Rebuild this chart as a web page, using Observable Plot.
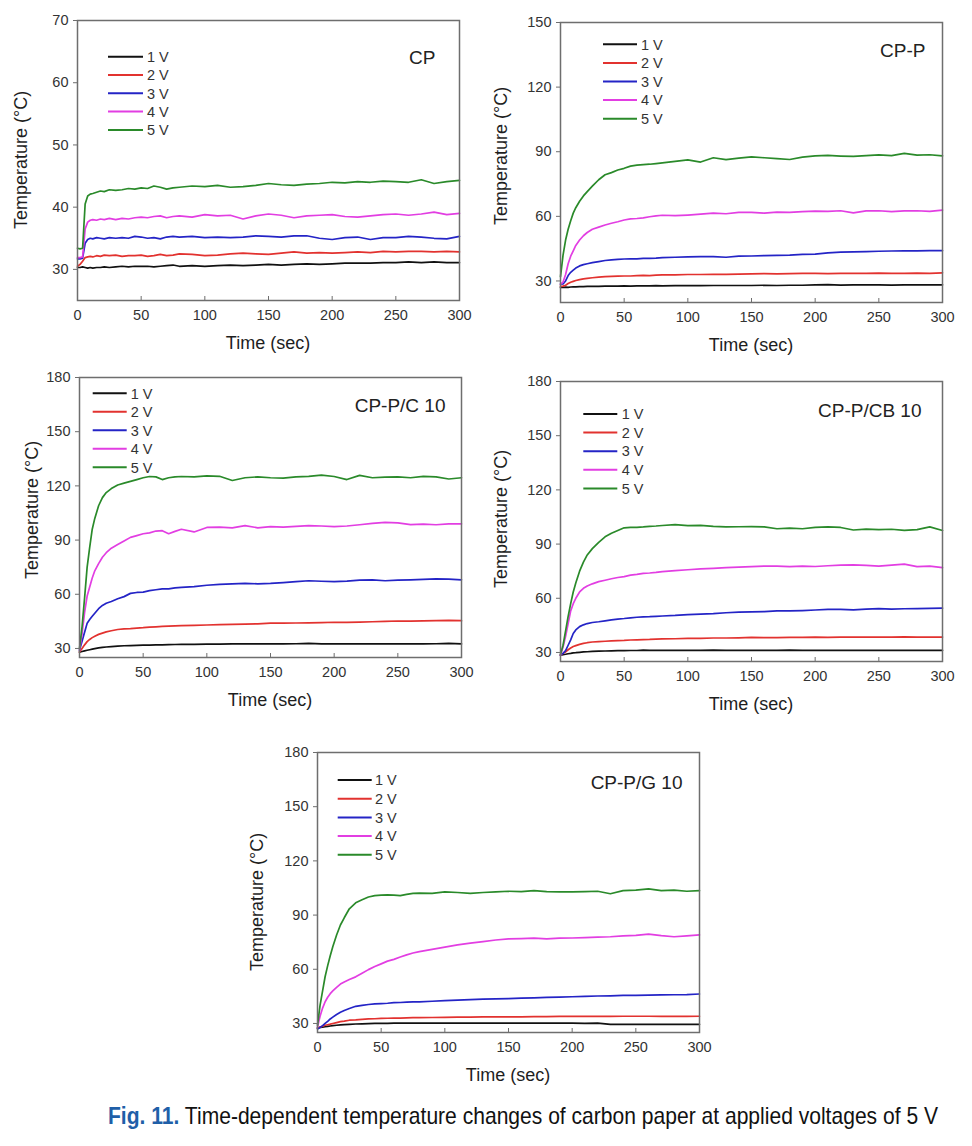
<!DOCTYPE html>
<html><head><meta charset="utf-8">
<script src="https://cdn.jsdelivr.net/npm/d3@7"></script>
<script src="https://cdn.jsdelivr.net/npm/@observablehq/plot@0.6"></script>
<style>
body{margin:0;background:#fff;}
#root{position:relative;width:972px;height:1146px;overflow:hidden;background:#fff;}
.panel{position:absolute;}
#caption{position:absolute;left:108px;top:1102px;white-space:nowrap;font-family:"Liberation Sans Narrow","Liberation Sans",Arial,sans-serif;font-size:24px;line-height:28px;color:#111;transform-origin:0 0;}
#caption b{color:#1f5fa8;}
</style></head><body><div id="root"></div>
<script>
// ---------- data ----------
const time = [0,2,4,6,8,10,12,15,18,21, 25,30,35,40,45,50,55,60,65,70,75,80,
  90,100,110,120,130,140,150,160,170,180,190,200,210,220,230,240,250,260,270,280,290,300];
const voltages = ["1 V","2 V","3 V","4 V","5 V"];
const colors = ["#111111","#e2322f","#2424c6","#e23ee2","#2a8a2a"];
const xTicks = [0,50,100,150,200,250,300];

// CP
const cp_1V = [30.3,30.3,30.4,30.3,30.2,30.3,30.2,30.3,30.3,30.4, 30.3,30.4,30.5,30.4,30.5,30.5,30.5,30.4,30.5,30.6,30.7,30.5, 30.6,30.5,30.6,30.7,30.6,30.7,30.8,30.7,30.8,30.9,30.8,30.9,31.0,31.0,31.0,31.1,31.1,31.2,31.1,31.2,31.1,31.1];
const cp_2V = [30.5,30.8,31.3,31.9,32.0,32.1,32.0,32.2,32.1,32.3, 32.2,32.3,32.1,32.2,32.2,32.3,32.1,32.2,32.4,32.2,32.3,32.5, 32.4,32.2,32.3,32.5,32.6,32.5,32.4,32.6,32.8,32.6,32.7,32.6,32.7,32.8,32.7,32.9,32.8,32.9,32.9,32.8,32.9,32.8];
const cp_3V = [31.7,31.7,31.8,34.2,34.8,35.0,34.9,35.1,35.0,34.9, 35.1,35.0,35.1,35.0,35.3,35.2,35.0,35.1,34.9,35.2,35.3,35.2, 35.3,35.1,35.2,35.1,35.2,35.4,35.3,35.2,35.4,35.4,35.0,34.8,35.1,35.2,34.8,35.1,35.1,35.3,35.2,35.0,34.9,35.3];
const cp_4V = [31.9,31.9,32.0,36.5,37.6,37.9,38.0,37.9,38.1,38.0, 38.2,38.0,38.2,38.1,38.3,38.4,38.3,38.5,38.6,38.3,38.5,38.6, 38.4,38.8,38.6,38.7,38.1,38.6,38.9,38.7,38.3,38.6,38.7,38.8,38.5,38.4,38.6,38.8,38.9,38.7,38.9,39.2,38.8,39.0];
const cp_5V = [33.4,33.3,33.4,40.5,41.8,42.1,42.2,42.4,42.6,42.5, 42.8,42.7,42.8,43.0,42.9,43.1,43.0,43.4,43.2,42.9,43.1,43.2, 43.4,43.3,43.5,43.2,43.3,43.5,43.8,43.6,43.5,43.7,43.8,44.0,43.9,44.1,44.0,44.2,44.1,44.0,44.4,43.8,44.1,44.3];

// CP-P
const cpp_1V = [27.0,27.0,27.1,27.0,27.2,27.3,27.3,27.4,27.4,27.5, 27.5,27.5,27.6,27.6,27.6,27.7,27.6,27.7,27.7,27.7,27.8,27.7, 27.8,27.9,27.8,27.9,27.9,27.9,27.9,28.0,27.9,28.0,28.0,28.2,28.3,28.1,28.2,28.2,28.2,28.1,28.2,28.2,28.2,28.2];
const cpp_2V = [27.5,27.6,28.0,28.8,29.4,29.8,30.2,30.6,31.0,31.2, 31.5,31.8,32.0,32.1,32.2,32.3,32.3,32.5,32.6,32.5,32.7,32.8, 32.8,33.0,33.0,33.1,33.1,33.2,33.3,33.4,33.3,33.4,33.5,33.5,33.4,33.5,33.5,33.5,33.6,33.5,33.5,33.6,33.5,33.8];
const cpp_3V = [28.5,28.6,30.0,32.5,34.0,35.0,36.0,37.0,37.6,38.0, 38.5,39.0,39.5,39.8,40.0,40.2,40.3,40.3,40.5,40.5,40.6,40.8, 41.0,41.2,41.3,41.3,41.0,41.5,41.6,41.8,41.9,42.0,42.3,42.5,43.0,43.4,43.5,43.6,43.8,43.9,44.0,44.0,44.1,44.1];
const cpp_4V = [28.5,29.5,33.0,38.0,41.5,44.0,46.5,49.0,51.0,52.5, 54.0,55.0,56.0,56.8,57.5,58.3,58.8,59.0,59.3,59.8,60.2,60.5, 60.3,60.6,61.0,61.5,61.2,61.8,61.8,61.5,62.0,61.8,62.2,62.4,62.3,62.6,61.6,62.5,62.6,62.2,62.5,62.6,62.3,62.9];
const cpp_5V = [32.0,42.0,49.0,54.0,58.0,61.5,64.0,67.0,69.5,71.5, 74.0,77.0,79.3,80.3,81.5,82.3,83.3,83.8,84.0,84.2,84.5,84.8, 85.5,86.2,85.2,87.2,86.3,87.0,87.6,87.2,86.8,86.4,87.5,88.1,88.3,88.0,87.8,88.2,88.5,88.2,89.2,88.4,88.6,88.1];

// CP-P/C 10
const cppc_1V = [28.0,28.3,28.7,29.0,29.3,29.6,29.9,30.3,30.6,30.8, 31.0,31.3,31.5,31.6,31.7,31.8,31.9,32.0,32.0,32.1,32.2,32.3, 32.3,32.4,32.4,32.5,32.5,32.5,32.5,32.5,32.6,32.8,32.5,32.6,32.5,32.6,32.5,32.5,32.5,32.5,32.5,32.6,32.8,32.5];
const cppc_2V = [28.0,30.0,32.0,33.8,35.0,36.0,36.8,37.8,38.5,39.2, 39.8,40.5,40.8,41.0,41.3,41.5,41.8,42.0,42.2,42.4,42.5,42.6, 42.8,43.0,43.2,43.3,43.5,43.6,44.0,44.0,44.1,44.2,44.3,44.5,44.4,44.6,44.8,45.0,45.2,45.1,45.3,45.4,45.5,45.4];
const cppc_3V = [29.0,34.0,39.0,44.0,46.0,47.8,49.5,52.0,53.8,55.0, 56.0,57.5,58.7,60.5,61.0,61.2,62.0,62.5,63.0,63.0,63.5,63.8, 64.2,65.0,65.5,65.8,66.0,65.8,66.0,66.5,67.0,67.5,67.2,67.0,67.3,67.8,68.0,67.5,67.8,68.0,68.3,68.5,68.4,68.0];
const cppc_4V = [29.0,38.0,50.0,59.0,64.0,69.0,73.0,77.0,80.5,83.0, 85.5,87.5,89.5,91.5,92.5,93.5,94.0,95.0,95.2,93.5,94.8,96.0, 94.5,97.0,97.2,96.8,98.0,96.8,97.5,97.2,97.6,98.0,97.8,97.5,97.8,98.5,99.2,99.8,99.5,98.6,98.8,98.5,99.0,99.0];
const cppc_5V = [30.0,42.0,58.0,75.0,86.0,96.0,102.0,109.0,113.5,116.3, 118.5,120.5,121.5,122.5,123.5,124.5,125.2,125.0,123.5,124.5,125.0,125.2, 125.0,125.5,125.3,123.0,124.5,125.0,124.5,124.3,125.0,125.3,126.0,125.2,123.5,125.8,124.5,124.8,125.0,124.5,125.3,125.0,123.8,124.5];

// CP-P/CB 10
const cppcb_1V = [28.5,28.8,29.0,29.3,29.5,29.8,29.9,30.1,30.3,30.4, 30.6,30.7,30.8,30.9,31.0,31.0,31.1,31.1,31.3,31.2,31.2,31.2, 31.2,31.2,31.2,31.3,31.2,31.2,31.2,31.2,31.2,31.3,31.2,31.2,31.2,31.2,31.2,31.2,31.2,31.2,31.2,31.2,31.2,31.2];
const cppcb_2V = [28.5,29.5,30.3,31.5,32.5,33.3,33.8,34.5,35.0,35.4, 35.8,36.0,36.2,36.4,36.6,36.7,36.9,37.0,37.1,37.2,37.4,37.5, 37.6,37.8,37.8,38.0,38.0,38.1,38.3,38.2,38.2,38.3,38.3,38.5,38.4,38.5,38.5,38.5,38.5,38.5,38.6,38.5,38.5,38.5];
const cppcb_3V = [28.5,29.5,31.0,34.0,37.0,40.5,42.5,44.3,45.3,46.0, 46.6,47.0,47.5,48.0,48.5,48.8,49.2,49.5,49.7,49.8,50.0,50.2, 50.5,51.0,51.2,51.5,52.0,52.3,52.5,52.6,53.0,53.0,53.2,53.5,53.8,53.9,53.6,54.0,54.3,54.0,54.2,54.3,54.4,54.5];
const cppcb_4V = [28.5,33.0,39.0,46.0,53.0,57.0,60.0,63.5,65.5,66.8, 68.0,69.2,70.0,70.8,71.5,72.0,72.8,73.2,73.8,74.0,74.3,74.8, 75.3,75.8,76.3,76.6,77.0,77.2,77.5,77.8,77.8,77.5,77.8,77.6,78.0,78.4,78.5,78.2,77.8,78.4,78.9,77.5,77.8,77.0];
const cppcb_5V = [29.0,34.0,42.0,50.0,57.0,63.5,68.5,75.0,80.0,84.0, 87.5,91.0,94.0,96.0,97.5,99.0,99.2,99.3,99.5,99.8,100.0,100.3, 100.8,100.2,100.4,99.8,99.5,99.6,99.7,99.5,98.5,98.8,98.5,99.3,99.5,99.2,97.8,98.3,98.0,98.2,97.6,98.0,99.5,97.5];

// CP-P/G 10
const cppg_1V = [27.5,27.8,28.0,28.2,28.4,28.6,28.8,29.0,29.2,29.4, 29.5,29.7,29.8,29.9,30.0,30.1,30.1,30.2,30.2,30.2,30.2,30.2, 30.2,30.2,30.2,30.2,30.2,30.2,30.2,30.2,30.2,30.2,30.2,30.2,30.0,30.2,29.5,29.5,29.5,29.5,29.5,29.5,29.5,29.5];
const cppg_2V = [27.5,28.0,28.5,29.0,29.3,29.6,30.0,30.5,31.0,31.3, 31.8,32.0,32.3,32.5,32.6,32.8,32.9,33.0,33.0,33.1,33.2,33.2, 33.3,33.4,33.5,33.5,33.6,33.6,33.7,33.7,33.8,33.8,33.9,34.0,33.9,34.0,33.9,34.0,34.0,34.0,33.9,34.0,33.9,34.0];
const cppg_3V = [27.0,27.8,28.8,30.0,31.2,32.5,33.5,35.0,36.2,37.2, 38.3,39.5,40.0,40.5,40.8,41.0,41.2,41.5,41.6,41.8,41.9,42.0, 42.3,42.6,42.9,43.2,43.5,43.6,43.8,44.0,44.2,44.4,44.6,44.8,45.0,45.2,45.3,45.5,45.6,45.7,45.8,45.9,46.0,46.3];
const cppg_4V = [28.0,34.0,38.5,42.0,44.5,46.5,48.0,50.0,51.8,53.0, 54.3,55.8,57.8,59.8,61.5,63.0,64.5,65.5,66.8,68.0,69.0,69.8, 71.0,72.3,73.5,74.5,75.3,76.2,76.8,77.0,77.2,76.8,77.2,77.3,77.5,77.8,78.0,78.5,78.8,79.5,78.6,78.0,78.5,79.0];
const cppg_5V = [29.0,40.0,48.0,56.0,62.0,67.5,72.5,79.0,84.5,88.5, 93.5,96.8,98.5,100.0,100.8,101.0,101.2,101.0,100.8,101.5,102.0,102.2, 102.0,102.8,102.5,102.0,102.5,102.8,103.2,103.0,103.5,103.0,102.8,102.8,103.0,103.2,101.8,103.5,103.8,104.5,103.5,103.8,103.2,103.5];

const panelNames = ["CP","CP-P","CP-P/C 10","CP-P/CB 10","CP-P/G 10"];
const yTickSets = [[30,40,50,60,70],[30,60,90,120,150],[30,60,90,120,150,180],[30,60,90,120,150,180],[30,60,90,120,150,180]];
const yDomains = [[25,70],[20,150],[25,180],[25,180],[25,180]];
const seriesSets = [
  [cp_1V,cp_2V,cp_3V,cp_4V,cp_5V],
  [cpp_1V,cpp_2V,cpp_3V,cpp_4V,cpp_5V],
  [cppc_1V,cppc_2V,cppc_3V,cppc_4V,cppc_5V],
  [cppcb_1V,cppcb_2V,cppcb_3V,cppcb_4V,cppcb_5V],
  [cppg_1V,cppg_2V,cppg_3V,cppg_4V,cppg_5V]
];

// ---------- layout ----------
const ML = 80, MT = 20, MR = 20, MB = 70, FW = 382, FH = 280;
const layout = [
  {left:77,  top:20,  legX0:31,   legX1:66,   legT:70,   legY:36.7, legS:18.3, labDx:-24, labDy:37,   yTitleX:56, yTitleDy:0},
  {left:560, top:22,  legX0:43,   legX1:77,   legT:81,   legY:22.3, legS:18.6, labDx:-17, labDy:28,   yTitleX:59, yTitleDy:-6},
  {left:79,  top:377, legX0:13.7, legX1:47.7, legT:51.7, legY:16.3, legS:18.5, labDx:-16, labDy:28.7, yTitleX:47, yTitleDy:-7},
  {left:560, top:381, legX0:23.3, legX1:57.3, legT:61.7, legY:33,   legS:18.6, labDx:-21, labDy:29,   yTitleX:59, yTitleDy:-2},
  {left:317, top:752, legX0:20.7, legX1:54.7, legT:58,   legY:28,   legS:18.7, labDx:-17, labDy:30.3, yTitleX:60, yTitleDy:10}
];

const root = document.getElementById("root");
const FONT = "'Liberation Sans', Arial, Helvetica, sans-serif";

panelNames.forEach((name, p) => {
  const L = layout[p];
  const rows = [];
  seriesSets[p].forEach((vals, i) => vals.forEach((v, j) => rows.push({t: time[j], temp: v, volt: voltages[i]})));
  const svg = Plot.plot({
    width: FW + ML + MR, height: FH + MT + MB,
    marginLeft: ML, marginRight: MR, marginTop: MT, marginBottom: MB,
    style: {fontFamily: FONT, fontSize: "14px", background: "transparent", color: "#333"},
    x: {domain: [0, 300]},
    y: {domain: yDomains[p]},
    color: {domain: voltages, range: colors},
    marks: [
      Plot.line(rows, {x: "t", y: "temp", z: "volt", stroke: "volt", strokeWidth: 1.7}),
      Plot.frame({stroke: "#6e6e6e", strokeWidth: 1.5}),
      Plot.axisX(xTicks, {anchor: "bottom", tickSize: -4, tickPadding: 13, stroke: "#6e6e6e", fill: "#333", label: null, fontSize: 14.5}),
      Plot.axisY(yTickSets[p], {anchor: "left", tickSize: 4, tickPadding: 5, stroke: "#6e6e6e", fill: "#333", label: null, fontSize: 14.5}),
      Plot.text([name], {frameAnchor: "top-right", dx: L.labDx, dy: L.labDy, textAnchor: "end", lineAnchor: "middle", fontSize: 19, fill: "#222"})
    ]
  });
  const s = d3.select(svg);
  // axis titles
  s.append("text").attr("x", ML + FW / 2).attr("y", MT + FH + 43).attr("dy", "0.35em")
    .attr("text-anchor", "middle").attr("font-size", 18).attr("fill", "#1e1e1e").attr("font-family", FONT)
    .text("Time (sec)");
  s.append("text").attr("transform", `translate(${ML - L.yTitleX},${MT + FH / 2 + L.yTitleDy}) rotate(-90)`)
    .attr("dy", "0.35em").attr("text-anchor", "middle").attr("font-size", 18).attr("fill", "#1e1e1e").attr("font-family", FONT)
    .text("Temperature (°C)");
  // legend
  const g = s.append("g").attr("text-anchor", "start");
  voltages.forEach((v, i) => {
    const y = MT + L.legY + i * L.legS;
    g.append("line").attr("x1", ML + L.legX0).attr("x2", ML + L.legX1).attr("y1", y).attr("y2", y)
      .attr("stroke", colors[i]).attr("stroke-width", 2);
    g.append("text").attr("x", ML + L.legT).attr("y", y).attr("dy", "0.36em").attr("text-anchor", "start")
      .attr("font-size", 14.5).attr("fill", "#333").attr("font-family", FONT).text(v);
  });
  const div = document.createElement("div");
  div.className = "panel";
  div.style.left = (L.left - ML) + "px";
  div.style.top = (L.top - MT) + "px";
  div.appendChild(svg);
  root.appendChild(div);
});

// caption
const cap = document.createElement("div");
cap.id = "caption";
cap.innerHTML = "<b>Fig. 11.</b> Time-dependent temperature changes of carbon paper at applied voltages of 5 V";
root.appendChild(cap);
const w = cap.getBoundingClientRect().width;
cap.style.transform = `scaleX(${830 / w})`;
</script>
</body></html>
